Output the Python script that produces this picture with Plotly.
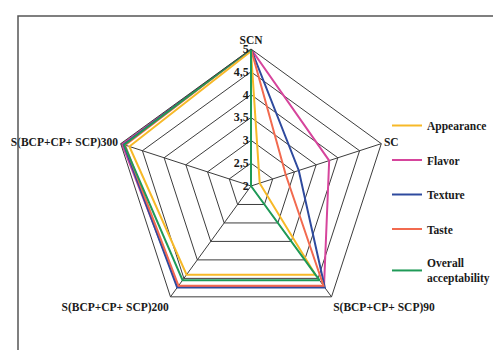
import plotly.graph_objects as go

categories = ["SCN", "SC", "S(BCP+CP+ SCP)90", "S(BCP+CP+ SCP)200", "S(BCP+CP+ SCP)300"]
appearance = [4.95, 2.2, 4.4, 4.4, 4.8]
flavor = [5.0, 3.8, 4.72, 4.72, 4.97]
texture = [5.0, 3.1, 4.75, 4.75, 4.93]
taste = [5.0, 2.8, 4.7, 4.7, 4.9]
overall = [5.0, 2.0, 4.55, 4.55, 4.92]

series_names = ["Appearance", "Flavor", "Texture", "Taste", "Overall<br>acceptability"]
series_values = [appearance, flavor, texture, taste, overall]
series_colors = ["#F7B928", "#D6459C", "#2E4A9E", "#F26A4F", "#1F9A57"]

radial_ticks = [2, 2.5, 3, 3.5, 4, 4.5, 5]
radial_ticktext = ["2", "2,5", "3", "3,5", "4", "4,5", "5"]

fig = go.Figure()
for name, vals, col in zip(series_names, series_values, series_colors):
    fig.add_trace(go.Scatterpolar(
        r=vals + vals[:1],
        theta=categories + categories[:1],
        mode="lines",
        name=name,
        legendgroup=name,
        line=dict(color=col, width=2),
    ))

W, H = 501, 350
cx, cy, R = 243, 178, 137
grid_col = "#3c3c3c"

fig.update_layout(
    width=W, height=H,
    margin=dict(l=0, r=0, t=0, b=0),
    paper_bgcolor="white",
    font=dict(family="Liberation Serif", size=12, color="#1a1a1a", weight="bold"),
    polar=dict(
        domain=dict(x=[(cx - R) / W, (cx + R) / W], y=[1 - (cy + R) / H, 1 - (cy - R) / H]),
        bgcolor="white",
        gridshape="linear",
        radialaxis=dict(
            range=[2, 5],
            tickvals=radial_ticks,
            ticktext=radial_ticktext,
            angle=90,
            tickangle=90,
            side="counterclockwise",
            showline=False,
            gridcolor=grid_col,
            gridwidth=1,
            ticks="",
            tickfont=dict(size=12, family="Liberation Serif", weight="bold"),
        ),
        angularaxis=dict(
            direction="clockwise",
            rotation=90,
            gridcolor=grid_col,
            gridwidth=1,
            linecolor=grid_col,
            linewidth=1,
            showline=True,
            ticks="",
            tickfont=dict(size=11.5, family="Liberation Serif", weight="bold"),
        ),
    ),
    legend=dict(
        x=379 / W, y=1 - 103 / H, xanchor="left", yanchor="top",
        tracegroupgap=15.5,
        font=dict(size=11.5, family="Liberation Serif", weight="bold"),
        bgcolor="rgba(0,0,0,0)",
    ),
    shapes=[dict(
        type="rect", xref="paper", yref="paper",
        x0=10 / W, x1=494 / W, y0=-0.2, y1=1 - 8 / H,
        line=dict(color="#555555", width=1.5),
    )],
)

fig.write_html("out.html")
